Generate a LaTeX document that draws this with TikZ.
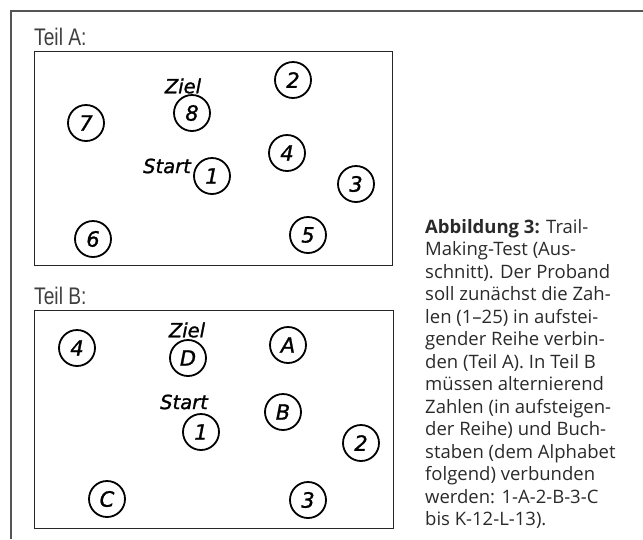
\documentclass[tikz,border=0pt]{standalone}
\usepackage{fontspec}
\setmainfont{Open Sans}
\newfontfamily\labfont[FakeBold=1.2]{DejaVu Sans}
\newfontfamily\teilfont{Liberation Sans}
\definecolor{frame}{HTML}{555555}
\definecolor{txt}{HTML}{2A2A2A}
\newcommand{\teiltext}[1]{\scalebox{0.8}[1]{#1}}
\tikzset{
  circ/.style={circle, draw=black, line width=1.8pt, minimum size=36pt, inner sep=0pt,
    font=\labfont\itshape\fontsize{21}{21}\selectfont},
  lbl/.style={inner sep=0pt, font=\labfont\itshape\fontsize{19.5}{20}\selectfont},
  teil/.style={anchor=base west, inner sep=0pt, text=txt!90,
    font=\teilfont\fontsize{24}{24}\selectfont},
  panel/.style={draw=black!85, line width=1.2pt},
}
\begin{document}
\begin{tikzpicture}[x=1pt,y=-1pt]
\useasboundingbox (0,0) rectangle (643,539);
% outer frame (cropped)
\coordinate (ftr) at (643,11);
\coordinate (fc) at (11,11);
\coordinate (fbl) at (11,539);
\draw[draw=frame, line width=1.3pt] (ftr) -- (fc) -- (fbl);
% ---------------- Teil A
\node[teil] (teilA) at (34,45) {\teiltext{Teil A:}};
\node[panel, anchor=north west, minimum width=358pt, minimum height=214pt, inner sep=0pt] (boxA) at (34,51) {};
\node[circ] (a1) at (212,176) {1};
\node[circ] (a2) at (293,80) {2};
\node[circ] (a3) at (356,184) {3};
\node[circ] (a4) at (287,153) {4};
\node[circ] (a5) at (308,235) {5};
\node[circ] (a6) at (93,239) {6};
\node[circ] (a7) at (86,123) {7};
\node[circ] (a8) at (192,113) {8};
\node[lbl] (zielA) at (183,86) {Ziel};
\node[lbl] (startA) at (167,166) {Start};
% ---------------- Teil B
\node[teil] (teilB) at (34,304) {\teiltext{Teil B:}};
\node[panel, anchor=north west, minimum width=359pt, minimum height=218pt, inner sep=0pt] (boxB) at (34,310) {};
\node[circ] (b1) at (201,432) {1};
\node[circ] (b2) at (361,443) {2};
\node[circ] (b3) at (308,500) {3};
\node[circ] (b4) at (77,348) {4};
\node[circ] (bA) at (288,345) {A};
\node[circ] (bB) at (283,412) {B};
\node[circ] (bC) at (107,499) {C};
\node[circ] (bD) at (188,358) {D};
\node[lbl] (zielB) at (187,330) {Ziel};
\node[lbl] (startB) at (184,402) {Start};
% ---------------- caption
\node[anchor=north west, inner sep=0pt, align=left, text=txt,
  font=\fontsize{18.5}{22.5}\selectfont] (cap) at (425,219) {%
\textbf{Abbildung 3:} Trail-\\
Making-Test (Aus-\\
schnitt). Der Proband\\
soll zunächst die Zah-\\
len (1–25) in aufstei-\\
gender Reihe verbin-\\
den (Teil A). In Teil B\\
müssen alternierend\\
Zahlen (in aufsteigen-\\
der Reihe) und Buch-\\
staben (dem Alphabet\\
folgend) verbunden\\
werden: 1-A-2-B-3-C\\
bis K-12-L-13).};
\end{tikzpicture}
\end{document}
